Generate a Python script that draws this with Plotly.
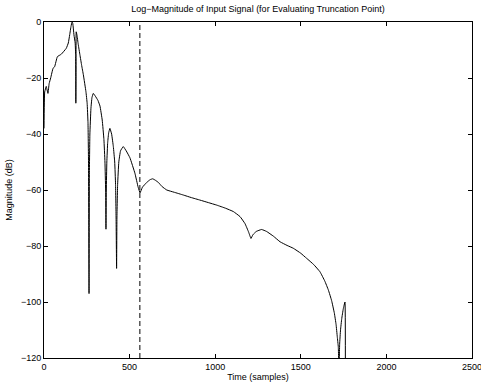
import plotly.graph_objects as go

# Time (samples) and log-magnitude (dB)
time_samples = [0, 4, 13, 23, 30, 39, 53, 62, 78, 101, 130, 142, 150, 158, 164, 168, 175, 182, 185,
                186, 187, 188, 192, 200, 210, 220, 230, 245, 252, 257, 260, 263, 265, 268, 274, 280,
                288, 300, 315, 327, 340, 350, 356, 360, 362, 364, 367, 372, 378, 385, 395, 405, 413,
                418, 421, 424, 426, 430, 437, 447, 463, 480, 502, 531, 550, 561, 575, 600, 620, 635,
                650, 668, 690, 717, 760, 814, 860, 911, 960, 1009, 1060, 1106, 1145, 1174, 1195, 1209,
                1220, 1240, 1271, 1300, 1340, 1379, 1420, 1456, 1500, 1534, 1575, 1612, 1640, 1661,
                1680, 1696, 1706, 1713, 1719, 1723, 1727, 1732, 1739, 1748, 1758, 1760]
magnitude_db = [-38, -25, -23, -25.5, -22, -20, -16.5, -16, -12.4, -11.5, -9.4, -7.5, -4.6, -1.5, 0,
                -0.5, -4.6, -7.5, -12, -29, -20, -3.5, -4.5, -8, -11.8, -15.5, -18.9, -24.9, -29, -36,
                -50, -97, -55, -40, -31, -27, -25.5, -26.5, -28, -30, -35, -42, -50, -60, -74, -60,
                -50, -43, -39.5, -38, -40, -44.5, -50, -58, -70, -88, -70, -58, -50, -46, -44.5, -46,
                -48.5, -54, -59, -61, -59, -57.3, -56.3, -56, -56.5, -57.3, -58.8, -60, -60.8, -61.8,
                -62.7, -63.6, -64.5, -65.4, -66.5, -67.7, -69.5, -72, -75, -77.3, -76, -74.8, -74.1,
                -74.8, -76.5, -78.5, -79.8, -80.8, -82.6, -84.4, -86.6, -89.2, -92.5, -95.7, -99.5,
                -104, -108, -112.4, -116, -125, -115, -110, -106, -102.5, -100, -140]

truncation_point = 560
x_ticks = [0, 500, 1000, 1500, 2000, 2500]
y_ticks = [-120, -100, -80, -60, -40, -20, 0]

font = "Liberation Sans, Arial, Helvetica, sans-serif"

fig = go.Figure()
fig.add_trace(go.Scatter(x=time_samples, y=magnitude_db, mode="lines",
                         line=dict(color="black", width=1, shape="spline", smoothing=0.3),
                         showlegend=False))
fig.add_trace(go.Scatter(x=[truncation_point, truncation_point], y=[y_ticks[0], y_ticks[-1]],
                         mode="lines", line=dict(color="black", width=1, dash="5px,3px"),
                         showlegend=False))

axis_common = dict(showline=True, linecolor="black", linewidth=1, mirror="ticks",
                   ticks="inside", ticklen=4, tickcolor="black", tickwidth=1,
                   showgrid=False, zeroline=False, automargin=False,
                   ticklabeloverflow="allow",
                   tickfont=dict(family=font, size=9, color="black"))

fig.update_layout(
    width=481, height=385,
    margin=dict(l=44, r=9, t=22, b=27),
    plot_bgcolor="white", paper_bgcolor="white",
    title=dict(text="Log\u2212Magnitude of Input Signal (for Evaluating Truncation Point)",
               font=dict(family=font, size=9, color="black"),
               x=0.5, xref="paper", xanchor="center",
               y=1 - 9 / 385, yref="container", yanchor="middle"),
    xaxis=dict(range=[0, 2500], tickvals=x_ticks,
               title=dict(text="Time (samples)", font=dict(family=font, size=9, color="black"),
                          standoff=2),
               **axis_common),
    yaxis=dict(range=[-120, 0], tickvals=y_ticks,
               title=dict(text="Magnitude (dB)", font=dict(family=font, size=9, color="black"),
                          standoff=6),
               **axis_common),
)

fig.write_html("out.html")
